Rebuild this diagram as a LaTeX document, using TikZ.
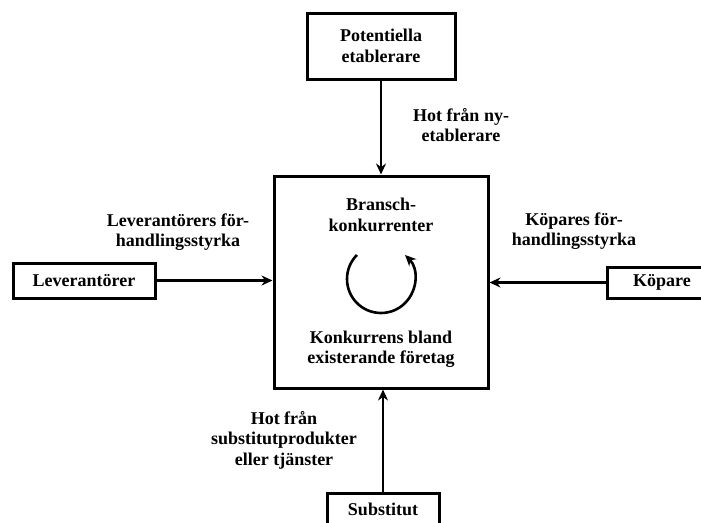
\documentclass[tikz,border=0pt]{standalone}
\usepackage{fontspec}
\setmainfont{Liberation Serif}
\usetikzlibrary{arrows.meta}
\tikzset{
  txt/.style={font=\fontsize{18}{20.5}\selectfont\bfseries, align=center, inner sep=0pt},
  boxnode/.style={txt, draw, line width=3pt, inner sep=0pt},
  arr/.style={line width=2.6pt, -{Stealth[length=11pt,width=10pt]}},
}
\begin{document}
\begin{tikzpicture}[x=1pt,y=-1pt]
\useasboundingbox (0,0) rectangle (701,522);
\clip (0,0) rectangle (701,522);
\fill[white] (0,0) rectangle (701,522);
% boxes
\node[boxnode, minimum width=148pt, minimum height=66pt] (pot) at (381,46) {Potentiella\\etablerare};
\node[boxnode, minimum width=214pt, minimum height=212pt] (cen) at (381,282) {};
\node[boxnode, minimum width=142pt, minimum height=35pt] (lev) at (84,280.5) {Leverantörer};
\node[boxnode, minimum width=110pt, minimum height=31pt] (kop) at (662,282.5) {Köpare};
\node[boxnode, minimum width=112pt, minimum height=32pt] (sub) at (383,509) {Substitut};
% texts in centre box
\node[txt] (bk) at (381,215) {Bransch-\\konkurrenter};
\node[txt] (ke) at (381,349) {Konkurrens bland\\existerande företag};
% labels
\node[txt] (lnew) at (461,125) {Hot från ny-\\etablerare};
\node[txt] (llev) at (178,232) {Leverantörers för-\\handlingsstyrka};
\node[txt] (lkop) at (574,231) {Köpares för-\\handlingsstyrka};
\node[txt] (lsub) at (284,440) {Hot från\\substitutprodukter\\eller tjänster};
% arrows
\draw[arr] (pot.south) -- (pot.south |- cen.north);
\draw[arr] (lev.east) -- (lev.east -| cen.west);
\draw[arr] (kop.west) -- (kop.west -| cen.east);
\draw[arr] (sub.north) -- (sub.north |- cen.south);
% circular arrow
\coordinate (cc) at (381,279);
\draw[arr] ([shift={(225:34)}]cc) arc[start angle=225, end angle=-45, radius=34];
\end{tikzpicture}
\end{document}
